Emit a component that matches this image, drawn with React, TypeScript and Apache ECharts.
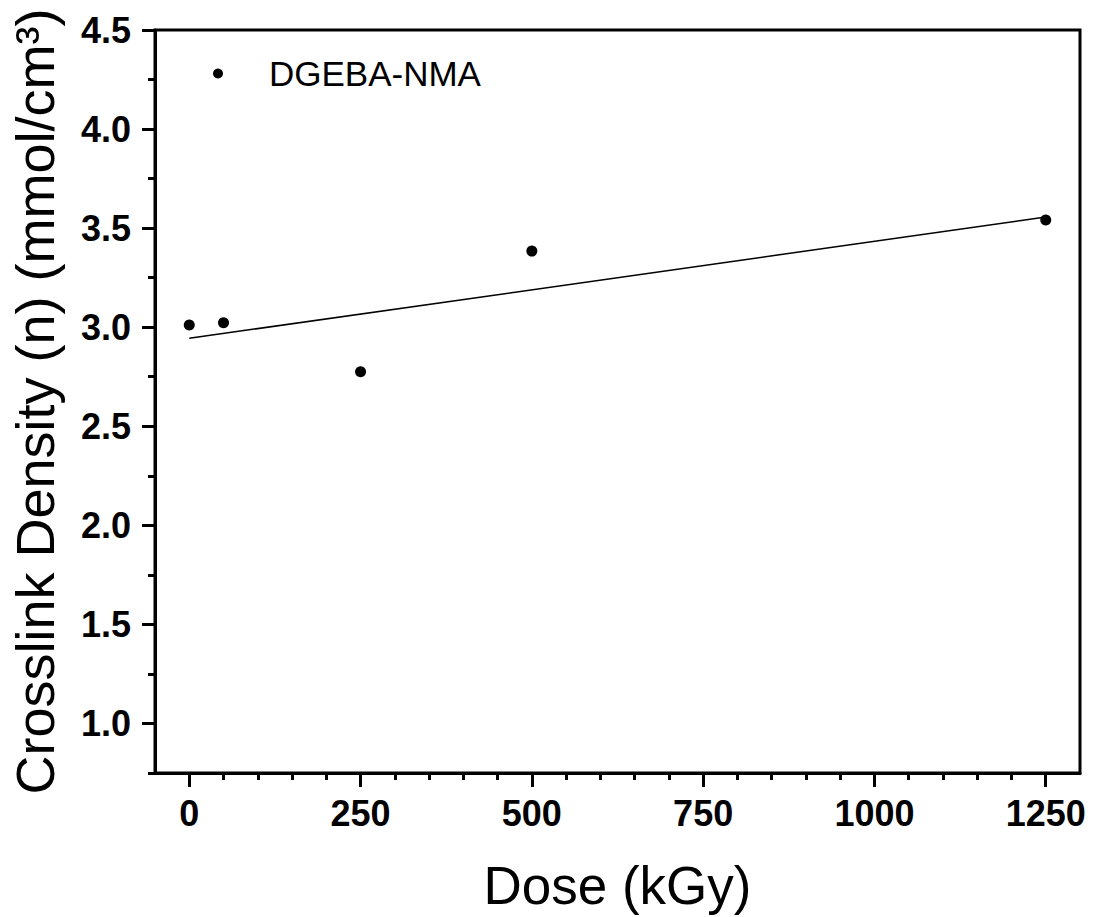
import React, { useEffect, useRef } from "react";
import * as echarts from "echarts";

const seriesName = "DGEBA-NMA";
const doseValues = [0, 50, 250, 500, 1250];
const densityValues = [3.011, 3.022, 2.775, 3.384, 3.541];
const fitDose = [0, 1250];
const fitDensity = [2.944, 3.556];
const xMajorTicks = [0, 250, 500, 750, 1000, 1250];
const xMinorTicks = [50, 100, 150, 200, 300, 350, 400, 450, 550, 600, 650, 700, 800, 850, 900, 950, 1050, 1100, 1150, 1200];
const yMajorTicks = [1.0, 1.5, 2.0, 2.5, 3.0, 3.5, 4.0, 4.5];
const yMinorTicks = [0.75, 1.25, 1.75, 2.25, 2.75, 3.25, 3.75, 4.25];
const xTitle = "Dose (kGy)";
const yTitle = "Crosslink Density (n) (mmol/cm³)";

const FONT = "'Liberation Sans', Arial, Helvetica, sans-serif";

export default function App() {
  const ref = useRef<HTMLDivElement>(null);
  useEffect(() => {
    if (!ref.current) return;
    const chart = echarts.init(ref.current, null, { renderer: "svg" });
    const axisCommon = {
      type: "value",
      splitLine: { show: false },
    };
    chart.setOption({
      animation: false,
      backgroundColor: "#fff",
      grid: {
        left: 155,
        top: 30,
        right: 20,
        bottom: 144,
        show: true,
        borderColor: "#000",
        borderWidth: 3,
      },
      legend: {
        data: [seriesName],
        left: 213,
        top: 56,
        padding: 0,
        itemWidth: 92,
        itemHeight: 10,
        itemGap: 5,
        icon: "circle",
        itemStyle: { color: "#000", opacity: 1 },
        textStyle: { fontFamily: FONT, fontSize: 35, color: "#000" },
      },
      xAxis: [
        {
          ...axisCommon,
          min: -50,
          max: 1300,
          name: xTitle,
          nameLocation: "middle",
          nameGap: 86,
          nameTextStyle: { fontFamily: FONT, fontSize: 53, color: "#000" },
          axisLine: { show: true, onZero: false, lineStyle: { color: "#000", width: 3 } },
          axisTick: {
            show: true,
            customValues: xMajorTicks,
            length: 14,
            lineStyle: { color: "#000", width: 3 },
          },
          axisLabel: {
            customValues: xMajorTicks,
            margin: 22,
            formatter: (v: number) => String(v),
            fontFamily: FONT,
            fontSize: 36,
            fontWeight: "bold",
            color: "#000",
          },
        },
        {
          ...axisCommon,
          min: -50,
          max: 1300,
          position: "bottom",
          axisLine: { show: false, onZero: false },
          axisTick: {
            show: true,
            customValues: xMinorTicks,
            length: 7,
            lineStyle: { color: "#000", width: 3 },
          },
          axisLabel: { show: false },
        },
      ],
      yAxis: [
        {
          ...axisCommon,
          min: 0.75,
          max: 4.5,
          name: yTitle,
          nameLocation: "middle",
          nameGap: 93,
          nameTextStyle: { fontFamily: FONT, fontSize: 54, color: "#000" },
          axisLine: { show: true, onZero: false, lineStyle: { color: "#000", width: 3 } },
          axisTick: {
            show: true,
            customValues: yMajorTicks,
            length: 13,
            lineStyle: { color: "#000", width: 3 },
          },
          axisLabel: {
            customValues: yMajorTicks,
            margin: 24,
            formatter: (v: number) => v.toFixed(1),
            fontFamily: FONT,
            fontSize: 36,
            fontWeight: "bold",
            color: "#000",
          },
        },
        {
          ...axisCommon,
          min: 0.75,
          max: 4.5,
          position: "left",
          axisLine: { show: false, onZero: false },
          axisTick: {
            show: true,
            customValues: yMinorTicks,
            length: 7,
            lineStyle: { color: "#000", width: 3 },
          },
          axisLabel: { show: false },
        },
      ],
      series: [
        {
          name: "fit",
          type: "line",
          data: fitDose.map((d, i) => [d, fitDensity[i]]),
          symbol: "none",
          lineStyle: { color: "#000", width: 1.5 },
          z: 2,
          silent: true,
        },
        {
          name: seriesName,
          type: "scatter",
          data: doseValues.map((d, i) => [d, densityValues[i]]),
          symbol: "circle",
          symbolSize: 11,
          itemStyle: { color: "#000", opacity: 1 },
          z: 3,
        },
      ],
    });
    return () => chart.dispose();
  }, []);
  return (
    <div
      ref={ref}
      style={{ position: "fixed", left: 0, top: 0, width: 1100, height: 917 }}
    />
  );
}
